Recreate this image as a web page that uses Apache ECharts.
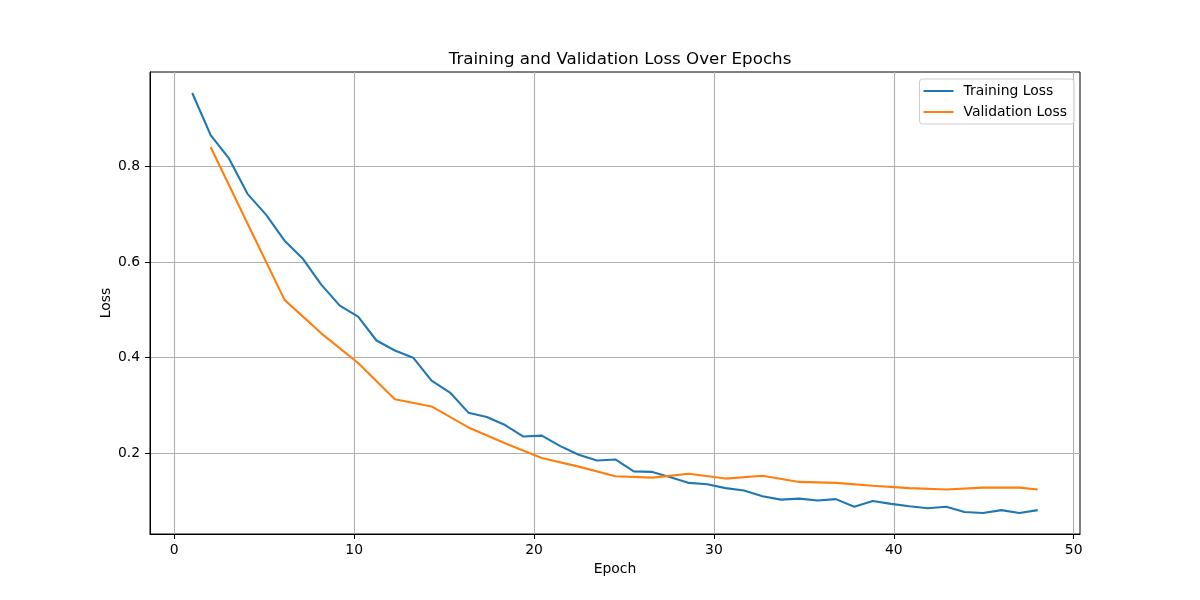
<!DOCTYPE html>
<html>
<head>
<meta charset="utf-8">
<title>Training and Validation Loss Over Epochs</title>
<script src="https://cdn.jsdelivr.net/npm/echarts@6/dist/echarts.min.js"></script>
<style>
  html, body { margin: 0; padding: 0; background: #fff; }
  #chart { width: 1200px; height: 600px; }
</style>
</head>
<body>
<div id="chart"></div>
<script>
// epochs where the training loss was logged
const trainEpochs = [1, 2.02, 3.04, 4.07, 5.11, 6.13, 7.15, 8.17, 9.20, 10.22,
  11.24, 12.26, 13.28, 14.30, 15.33, 16.35, 17.37, 18.39, 19.41, 20.43,
  21.46, 22.48, 23.50, 24.52, 25.54, 26.57, 27.59, 28.61, 29.63, 30.65,
  31.67, 32.70, 33.72, 34.74, 35.76, 36.78, 37.80, 38.83, 39.85, 40.87,
  41.89, 42.91, 43.93, 44.96, 45.98, 46.98, 48];
const trainLoss = [0.954, 0.866, 0.817, 0.743, 0.699, 0.645, 0.607, 0.553, 0.509, 0.486,
  0.436, 0.415, 0.400, 0.352, 0.327, 0.285, 0.276, 0.259, 0.235, 0.237,
  0.215, 0.197, 0.185, 0.187, 0.162, 0.161, 0.150, 0.138, 0.135, 0.127,
  0.122, 0.110, 0.103, 0.105, 0.101, 0.104, 0.088, 0.100, 0.094, 0.089,
  0.085, 0.088, 0.077, 0.075, 0.081, 0.075, 0.081];

// validation was run every other logging step (plus the final one)
const valEpochs = [2.02, 4.07, 6.13, 8.17, 10.22, 12.26, 14.30, 16.35, 18.39, 20.43,
  22.48, 24.52, 26.57, 28.61, 30.65, 32.70, 34.74, 36.78, 38.83, 40.87,
  42.91, 44.96, 46.98, 48];
const valLoss = [0.841, 0.681, 0.521, 0.451, 0.389, 0.313, 0.298, 0.254, 0.221, 0.190,
  0.172, 0.152, 0.149, 0.157, 0.147, 0.153, 0.140, 0.138, 0.132, 0.127,
  0.124, 0.128, 0.128, 0.124];

const xTicks = [0, 10, 20, 30, 40, 50];
const yTicks = [0.2, 0.4, 0.6, 0.8];

const font = 'DejaVu Sans';
const toPairs = (xs, ys) => xs.map((x, i) => [x, ys[i]]);

const chart = echarts.init(document.getElementById('chart'), null, { renderer: 'canvas' });
chart.setOption({
  animation: false,
  backgroundColor: '#ffffff',
  textStyle: { fontFamily: font },
  title: {
    text: 'Training and Validation Loss Over Epochs',
    left: 615,
    textAlign: 'center',
    top: 46,
    textStyle: { fontFamily: font, fontSize: 16.7, fontWeight: 'normal', color: '#000' }
  },
  legend: {
    orient: 'vertical',
    right: 126,
    top: 79,
    padding: [5, 7, 5, 4],
    itemGap: 7,
    itemWidth: 30,
    itemHeight: 2,
    icon: 'rect',
    backgroundColor: 'rgba(255,255,255,0.8)',
    borderColor: '#cccccc',
    borderWidth: 1,
    borderRadius: 3,
    textStyle: { fontFamily: font, fontSize: 13.9, color: '#000', padding: [0, 0, 0, 5] },
    data: ['Training Loss', 'Validation Loss']
  },
  grid: {
    left: 150, right: 120, top: 72, bottom: 66,
    show: true, borderColor: '#000', borderWidth: 1, backgroundColor: 'transparent'
  },
  xAxis: {
    type: 'value',
    min: -1.35,
    max: 50.35,
    name: 'Epoch',
    nameLocation: 'middle',
    nameGap: 28,
    nameMoveOverlap: false,
    nameTextStyle: { fontFamily: font, fontSize: 13.9, color: '#000' },
    axisLine: { show: true, onZero: false, lineStyle: { color: '#000', width: 1 } },
    axisTick: { show: true, length: 5, customValues: xTicks, lineStyle: { color: '#000' } },
    axisLabel: { customValues: xTicks, margin: 9, fontFamily: font, fontSize: 13.9, color: '#000' },
    splitLine: { show: true, lineStyle: { color: '#b0b0b0', width: 1.1 } }
  },
  yAxis: {
    type: 'value',
    min: 0.031,
    max: 0.998,
    name: 'Loss',
    nameLocation: 'middle',
    nameGap: 37,
    nameMoveOverlap: false,
    nameTextStyle: { fontFamily: font, fontSize: 13.9, color: '#000' },
    axisLine: { show: true, onZero: false, lineStyle: { color: '#000', width: 1 } },
    axisTick: { show: true, length: 5, customValues: yTicks, lineStyle: { color: '#000' } },
    axisLabel: {
      customValues: yTicks, margin: 10, fontFamily: font, fontSize: 13.9, color: '#000',
      formatter: v => v.toFixed(1)
    },
    splitLine: { show: true, lineStyle: { color: '#b0b0b0', width: 1.1 } }
  },
  series: [
    {
      name: 'Training Loss',
      type: 'line',
      data: toPairs(trainEpochs, trainLoss),
      showSymbol: false,
      symbol: 'none',
      color: '#1f77b4',
      lineStyle: { color: '#1f77b4', width: 2.1 }
    },
    {
      name: 'Validation Loss',
      type: 'line',
      data: toPairs(valEpochs, valLoss),
      showSymbol: false,
      symbol: 'none',
      color: '#ff7f0e',
      lineStyle: { color: '#ff7f0e', width: 2.1 }
    }
  ]
});
</script>
</body>
</html>
